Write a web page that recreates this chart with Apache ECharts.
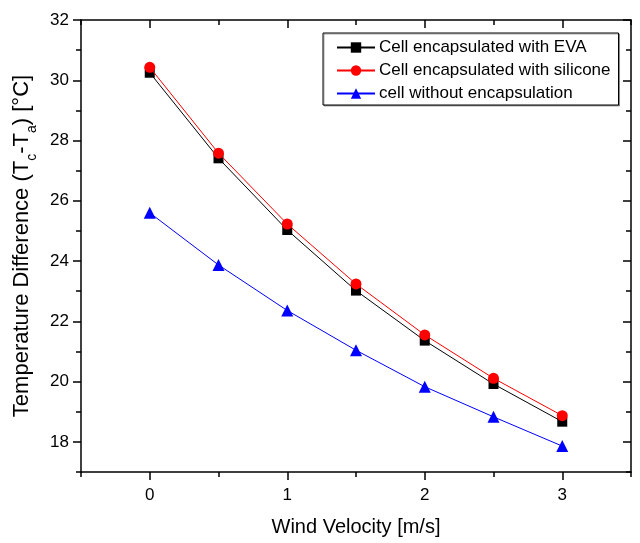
<!DOCTYPE html>
<html>
<head>
<meta charset="utf-8">
<script src="https://cdn.jsdelivr.net/npm/echarts@6/dist/echarts.min.js"></script>
<style>html,body{margin:0;padding:0;background:#fff;}#c{width:640px;height:543px;}</style>
</head>
<body>
<div id="c"></div>
<script>
var windVelocity = [0, 0.5, 1, 1.5, 2, 2.5, 3];
var evaValues = [30.25, 27.41, 25.03, 23.02, 21.36, 19.92, 18.67];
var siliconeValues = [30.43, 27.58, 25.23, 23.24, 21.55, 20.11, 18.87];
var noEncapValues = [25.60, 23.87, 22.36, 21.04, 19.83, 18.83, 17.86];
var seriesNames = ['Cell encapsulated with EVA', 'Cell encapsulated with silicone', 'cell without encapsulation'];
var xMajorTicks = [0, 1, 2, 3];
var xMinorTicks = [-0.5, 0.5, 1.5, 2.5, 3.5];
var yMajorTicks = [18, 20, 22, 24, 26, 28, 30, 32];
var yMinorTicks = [17, 19, 21, 23, 25, 27, 29, 31];
var xTitle = 'Wind Velocity [m/s]';
var yTitle = 'Temperature Difference (T{sub|c}-T{sub|a}) [°C]';

function pairs(xs, ys) { return xs.map(function (x, i) { return [x, ys[i]]; }); }

var FONT = 'Liberation Sans, Arial, sans-serif';
var lineStyle = { color: '#000', width: 1.5 };

function xAx(pos, ticks, len, inside, showLine, labels) {
  return {
    type: 'value', position: pos, min: -0.5, max: 3.5,
    axisLine: { show: showLine, onZero: false, lineStyle: lineStyle },
    axisTick: { show: true, customValues: ticks, length: len, inside: inside, lineStyle: lineStyle },
    axisLabel: labels ? { show: true, customValues: xMajorTicks, fontFamily: FONT, fontSize: 17, color: '#000', margin: 15 } : { show: false },
    splitLine: { show: false }
  };
}
function yAx(pos, ticks, len, inside, showLine, labels) {
  return {
    type: 'value', position: pos, min: 17, max: 32,
    axisLine: { show: showLine, onZero: false, lineStyle: lineStyle },
    axisTick: { show: true, customValues: ticks, length: len, inside: inside, lineStyle: lineStyle },
    axisLabel: labels ? { show: true, customValues: yMajorTicks, fontFamily: FONT, fontSize: 17, color: '#000', margin: 12 } : { show: false },
    splitLine: { show: false }
  };
}

var xMain = xAx('bottom', xMajorTicks, 8, false, true, true);
xMain.name = xTitle;
xMain.nameLocation = 'middle';
xMain.nameGap = 45;
xMain.nameTextStyle = { fontFamily: FONT, fontSize: 20, color: '#000' };

var yMain = yAx('left', yMajorTicks, 8, false, true, true);
yMain.name = yTitle;
yMain.nameLocation = 'middle';
yMain.nameGap = 38;
yMain.nameTextStyle = {
  fontFamily: FONT, fontSize: 22, color: '#000',
  rich: { sub: { fontFamily: FONT, fontSize: 14, color: '#000', verticalAlign: 'bottom', padding: [0, 0, -6, 0] } }
};

var chart = echarts.init(document.getElementById('c'), null, { renderer: 'canvas' });
chart.setOption({
  backgroundColor: '#fff',
  animation: false,
  grid: { left: 81, right: 9, top: 20, bottom: 71 },
  legend: {
    left: 323, top: 33, orient: 'vertical',
    data: seriesNames,
    itemWidth: 38, itemHeight: 13, itemGap: 6,
    padding: [6, 8, 3, 13],
    borderColor: '#000', borderWidth: 1,
    shadowColor: 'rgba(0,0,0,0.35)', shadowOffsetX: 1, shadowOffsetY: 1, shadowBlur: 0,
    backgroundColor: '#fff',
    textStyle: { fontFamily: FONT, fontSize: 17, color: '#000', padding: [0, 0, 0, -1] }
  },
  xAxis: [
    xMain,
    xAx('bottom', xMinorTicks, 5, false, false, false),
    xAx('top', xMajorTicks, 8, true, true, false),
    xAx('top', xMinorTicks, 5, true, false, false)
  ],
  yAxis: [
    yMain,
    yAx('left', yMinorTicks, 5, false, false, false),
    yAx('right', yMajorTicks, 8, true, true, false),
    yAx('right', yMinorTicks, 5, true, false, false)
  ],
  series: [
    { name: seriesNames[0], type: 'line', data: pairs(windVelocity, evaValues), symbol: 'rect', symbolSize: 10,
      itemStyle: { color: '#000' }, lineStyle: { color: '#000', width: 1 }, z: 2 },
    { name: seriesNames[1], type: 'line', data: pairs(windVelocity, siliconeValues), symbol: 'circle', symbolSize: 11,
      itemStyle: { color: '#ff0000' }, lineStyle: { color: '#ff0000', width: 1 }, z: 3 },
    { name: seriesNames[2], type: 'line', data: pairs(windVelocity, noEncapValues), symbol: 'triangle', symbolSize: 12,
      itemStyle: { color: '#0000ff' }, lineStyle: { color: '#0000ff', width: 1 }, z: 2 }
  ]
});
</script>
</body>
</html>
